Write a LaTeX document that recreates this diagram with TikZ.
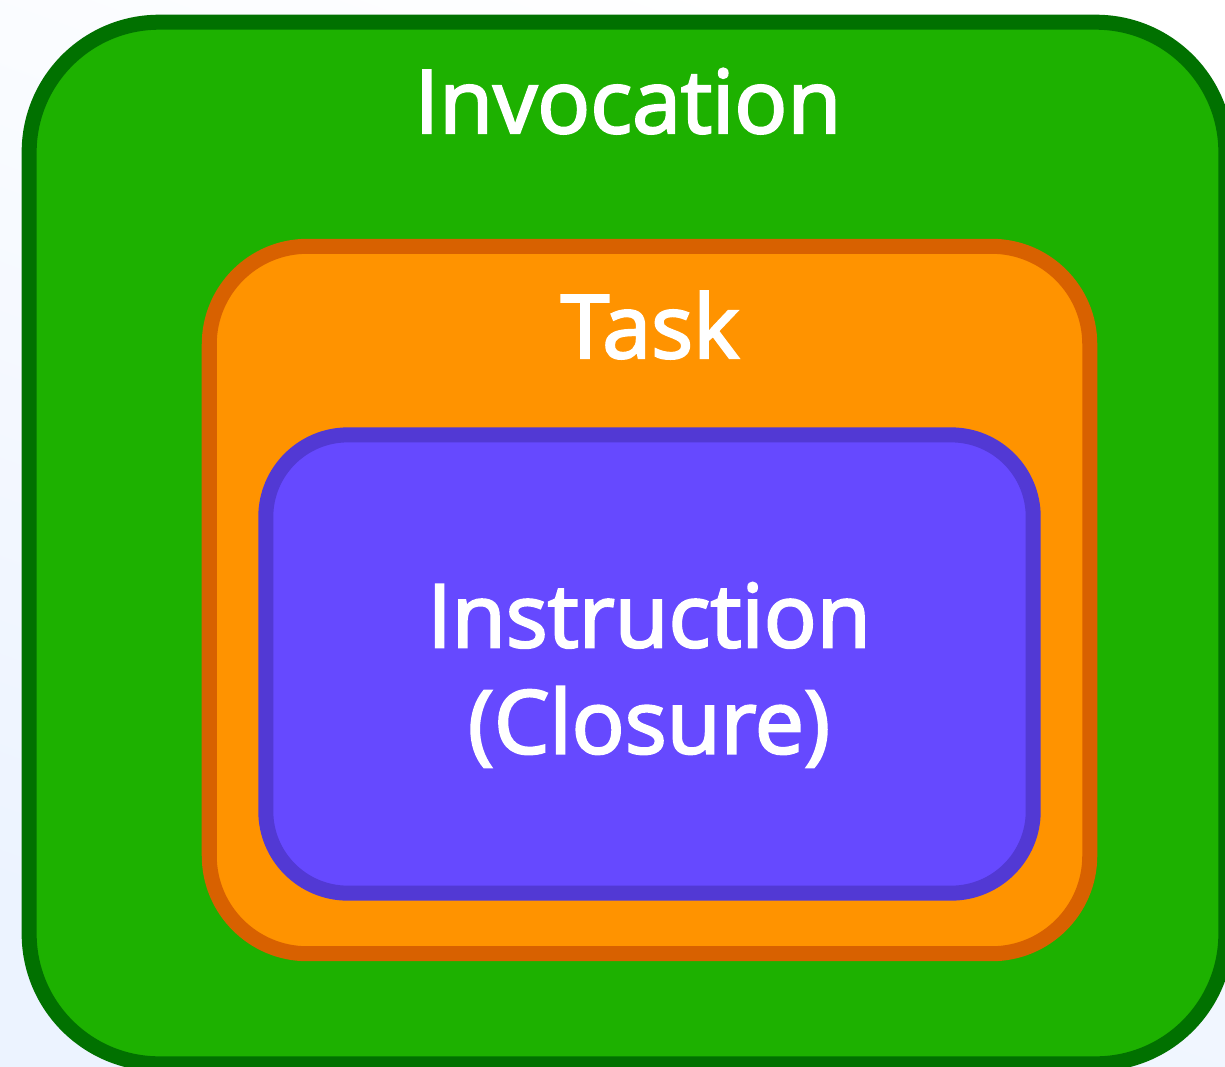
\documentclass[tikz,border=0pt]{standalone}
\usepackage{fontspec}
\setmainfont{Open Sans}
\newfontfamily\lblfont{Open Sans}[FakeBold=2.6]
\usepackage{xcolor}
\usetikzlibrary{math}
\definecolor{igreen}{RGB}{29,177,0}
\definecolor{igreendark}{RGB}{1,113,0}
\definecolor{torange}{RGB}{255,147,0}
\definecolor{torangedark}{RGB}{216,97,0}
\definecolor{cpurple}{RGB}{102,73,255}
\definecolor{cpurpledark}{RGB}{82,57,212}
\definecolor{bgblue}{RGB}{236,243,255}

\begin{document}
\begin{tikzpicture}[x=0.01cm,y=-0.01cm,
  box/.style={draw, rectangle, line width=0.15cm, inner sep=0pt},
  lbl/.style={text=white, font=\lblfont\fontsize{25}{30.2}\selectfont, inner sep=0pt}]
\tikzmath{
\W=1225;
\H=1066;
}

%background
\useasboundingbox (0,0) rectangle (\W,\H);
\clip (0,0) rectangle (\W,\H);
\shade[bottom color=bgblue, top color=white, shading angle=-20] (0,0) rectangle (\W,\H);

%boxes
\node[box, draw=igreendark, fill=igreen, minimum width=11.96cm, minimum height=10.41cm, rounded corners=1.3cm] (invocation) at (627.5,543) {};
\node[box, draw=torangedark, fill=torange, minimum width=8.8cm, minimum height=7.07cm, rounded corners=0.98cm] (task) at (649.5,600) {};
\node[box, draw=cpurpledark, fill=cpurple, minimum width=7.67cm, minimum height=4.58cm, rounded corners=0.82cm] (instruction) at (649.5,664) {};

%labels
\node[lbl, anchor=base] (invlabel) at (628,133) {Invocation};
\node[lbl, anchor=base] (tasklabel) at (650,358) {Task};
\node[lbl, align=center] (instrlabel) at (649,675) {Instruction\\(Closure)};

\end{tikzpicture}
\end{document}
